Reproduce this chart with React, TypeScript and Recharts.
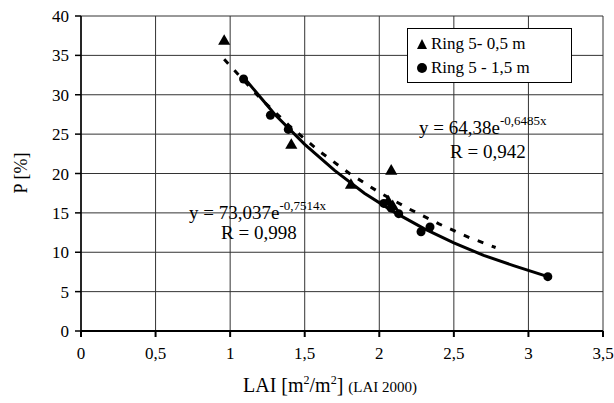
import React from 'react';
import {
  ScatterChart,
  Scatter,
  XAxis,
  YAxis,
  CartesianGrid
} from 'recharts';

// Ring 5 - 0,5 m (triangles)
const ring05 = [
  { x: 0.96, y: 36.8 },
  { x: 1.41, y: 23.6 },
  { x: 1.81, y: 18.5 },
  { x: 2.08, y: 20.3 },
  { x: 2.06, y: 16.4 },
  { x: 2.09, y: 15.8 }
];

// Ring 5 - 1,5 m (circles)
const ring15 = [
  { x: 1.09, y: 32.0 },
  { x: 1.27, y: 27.4 },
  { x: 1.39, y: 25.6 },
  { x: 2.03, y: 16.2 },
  { x: 2.08, y: 15.6 },
  { x: 2.13, y: 14.9 },
  { x: 2.28, y: 12.6 },
  { x: 2.34, y: 13.2 },
  { x: 3.13, y: 6.9 }
];

// trend line for 1,5 m (solid)
const trend15 = [
  { x: 1.1, y: 32.0 },
  { x: 1.3, y: 27.5 },
  { x: 1.5, y: 23.7 },
  { x: 1.7, y: 20.4 },
  { x: 1.9, y: 17.5 },
  { x: 2.1, y: 15.1 },
  { x: 2.3, y: 13.0 },
  { x: 2.5, y: 11.2 },
  { x: 2.7, y: 9.6 },
  { x: 2.9, y: 8.3 },
  { x: 3.13, y: 6.9 }
];

// trend line for 0,5 m (dashed)
const trend05 = [
  { x: 0.96, y: 34.5 },
  { x: 1.2, y: 29.6 },
  { x: 1.4, y: 26.0 },
  { x: 1.6, y: 22.8 },
  { x: 1.8, y: 20.0 },
  { x: 2.0, y: 17.6 },
  { x: 2.2, y: 15.5 },
  { x: 2.4, y: 13.6 },
  { x: 2.6, y: 11.9 },
  { x: 2.78, y: 10.6 }
];

const xTicks = [0, 0.5, 1, 1.5, 2, 2.5, 3, 3.5];
const yTicks = [0, 5, 10, 15, 20, 25, 30, 35, 40];

const FONT = 'Liberation Serif, serif';
const W = 614;
const H = 403;

const fmt = (v: number) => String(v).replace('.', ',');

const XTick = ({ x, y, payload }: any) => (
  <text x={x} y={y + 20} textAnchor="middle" fontFamily={FONT} fontSize={17} fill="#000">
    {fmt(payload.value)}
  </text>
);

const YTick = ({ x, y, payload }: any) => (
  <text x={x - 4} y={y + 6} textAnchor="end" fontFamily={FONT} fontSize={17} fill="#000">
    {payload.value}
  </text>
);

const LegendBox = () => (
  <div
    style={{
      position: 'absolute',
      left: 407,
      top: 28,
      width: 165,
      height: 55,
      border: '1px solid #000',
      background: '#fff',
      fontFamily: FONT,
      fontSize: 17,
      color: '#000',
      boxSizing: 'border-box',
      paddingTop: 3
    }}
  >
    <div style={{ display: 'flex', alignItems: 'center', height: 24, paddingLeft: 8, fontFamily: FONT }}>
      <svg width={12} height={12} style={{ marginRight: 3 }}>
        <polygon points="6,1 11,11 1,11" fill="#000" />
      </svg>
      Ring 5- 0,5 m
    </div>
    <div style={{ display: 'flex', alignItems: 'center', height: 24, paddingLeft: 8, fontFamily: FONT }}>
      <svg width={12} height={12} style={{ marginRight: 3 }}>
        <circle cx={6} cy={6} r={5} fill="#000" />
      </svg>
      Ring 5 - 1,5 m
    </div>
  </div>
);

export default function App() {
  return (
    <div
      style={{
        position: 'absolute',
        left: 0,
        top: 0,
        width: W,
        height: H,
        background: '#fff',
        fontFamily: FONT
      }}
    >
      <ScatterChart
        width={W}
        height={H}
        margin={{ top: 16, right: 11, bottom: 42, left: 0 }}
      >
        <CartesianGrid stroke="#333" strokeWidth={1} />
        <XAxis
          type="number"
          dataKey="x"
          domain={[0, 3.5]}
          ticks={xTicks}
          height={30}
          stroke="#000"
          strokeWidth={2}
          tickSize={6}
          tick={<XTick />}
          allowDataOverflow
        />
        <YAxis
          type="number"
          dataKey="y"
          domain={[0, 40]}
          ticks={yTicks}
          width={81}
          stroke="#000"
          strokeWidth={1.5}
          tickSize={6}
          tick={<YTick />}
          allowDataOverflow
        />
        <Scatter
          data={trend05}
          line={{ stroke: '#000', strokeWidth: 3, strokeDasharray: '6 9' }}
          shape={() => null}
          legendType="none"
          isAnimationActive={false}
        />
        <Scatter
          data={trend15}
          line={{ stroke: '#000', strokeWidth: 3 }}
          shape={() => null}
          legendType="none"
          isAnimationActive={false}
        />
        <Scatter
          name="Ring 5- 0,5 m"
          data={ring05}
          shape="triangle"
          size={80}
          fill="#000"
          isAnimationActive={false}
        />
        <Scatter
          name="Ring 5 - 1,5 m"
          data={ring15}
          shape="circle"
          size={90}
          fill="#000"
          isAnimationActive={false}
        />
      </ScatterChart>
      <LegendBox />
      <svg
        width={W}
        height={H}
        style={{ position: 'absolute', left: 0, top: 0, pointerEvents: 'none', fontFamily: FONT }}
      >
        <text x={27} y={173} fontSize={18} textAnchor="middle" transform="rotate(-90 27 173)">
          P [%]
        </text>
        <text x={243} y={392} fontSize={20}>
          LAI [m<tspan fontSize={12} dy={-8}>2</tspan>
          <tspan dy={8}>/m</tspan>
          <tspan fontSize={12} dy={-8}>2</tspan>
          <tspan dy={8}>] </tspan>
          <tspan fontSize={15}>(LAI 2000)</tspan>
        </text>
        <text x={189} y={219} fontSize={19}>
          y = 73,037e<tspan fontSize={13} dy={-9}>-0,7514x</tspan>
        </text>
        <text x={221} y={239} fontSize={19}>
          R = 0,998
        </text>
        <text x={419} y={134} fontSize={19}>
          y = 64,38e<tspan fontSize={13} dy={-9}>-0,6485x</tspan>
        </text>
        <text x={450} y={158} fontSize={19}>
          R = 0,942
        </text>
      </svg>
    </div>
  );
}
